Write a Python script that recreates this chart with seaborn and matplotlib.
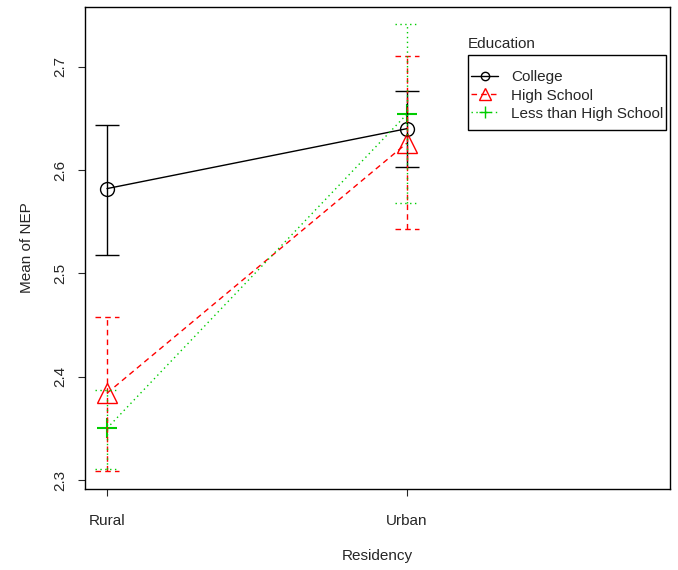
import numpy as np
import pandas as pd
import matplotlib
matplotlib.use("Agg")
import matplotlib.pyplot as plt
from matplotlib.lines import Line2D
from matplotlib.patches import Rectangle
import seaborn as sns

# values
residency = ["Rural", "Urban"]
education = ["College", "High School", "Less than High School"]
college_mean = [2.582, 2.640]
college_lo = [2.518, 2.603]
college_hi = [2.644, 2.676]
hs_mean = [2.384, 2.626]
hs_lo = [2.309, 2.543]
hs_hi = [2.458, 2.710]
lhs_mean = [2.350, 2.654]
lhs_lo = [2.311, 2.568]
lhs_hi = [2.387, 2.741]
y_ticks = [2.3, 2.4, 2.5, 2.6, 2.7]

sns.set_style("white")
plt.rcParams['font.family'] = ['Liberation Sans', 'DejaVu Sans']

colors = {"College": "#000000", "High School": "#ff0000", "Less than High School": "#00cd00"}
markers = {"College": "o", "High School": "^", "Less than High School": "+"}
msizes = {"College": 10, "High School": 14, "Less than High School": 14}
mwidths = {"College": 1.0, "High School": 1.0, "Less than High School": 1.5}
lstyles = {"College": "-", "High School": (0, (4, 3)), "Less than High School": (0, (1, 2.5))}

pos = np.arange(len(residency))
means = [college_mean, hs_mean, lhs_mean]
los = [college_lo, hs_lo, lhs_lo]
his = [college_hi, hs_hi, lhs_hi]

rows = []
for ed, m in zip(education, means):
    for p, v in zip(pos, m):
        rows.append({"Residency": p, "Education": ed, "NEP": v})
df = pd.DataFrame(rows)

fig = plt.figure(figsize=(6.78, 5.7), dpi=100)
ax = fig.add_axes([0.1254, 0.1416, 0.8626, 0.8466])

for ed in education:
    sub = df[df["Education"] == ed]
    sns.lineplot(data=sub, x="Residency", y="NEP", color=colors[ed],
                 marker=markers[ed], linestyle=lstyles[ed], markersize=msizes[ed],
                 markerfacecolor="none", markeredgecolor=colors[ed],
                 markeredgewidth=mwidths[ed], linewidth=1.0, legend=False, ax=ax)

# error bars with the same line style as each series
cap = 0.04
for ed, lo, hi in zip(education, los, his):
    ax.vlines(pos, lo, hi, color=colors[ed], linestyle=lstyles[ed], linewidth=1.0)
    ax.hlines(lo, pos - cap, pos + cap, color=colors[ed], linestyle=lstyles[ed], linewidth=1.0)
    ax.hlines(hi, pos - cap, pos + cap, color=colors[ed], linestyle=lstyles[ed], linewidth=1.0)

ax.set_xlim(-0.0733, 1.877)
ax.set_ylim(2.291, 2.758)
ax.set_xticks(pos)
ax.set_xticklabels(residency)
ax.set_yticks(y_ticks)
ax.set_yticklabels([f"{t:.1f}" for t in y_ticks], rotation=90, va="center")
ax.tick_params(axis="x", length=5, width=0.8, pad=13, labelsize=11, direction="out", bottom=True)
ax.tick_params(axis="y", length=5, width=0.8, pad=8, labelsize=11, direction="out", left=True)
ax.set_xlabel("Residency", fontsize=11, labelpad=15)
ax.set_ylabel("Mean of NEP", fontsize=11, labelpad=14)
for s in ax.spines.values():
    s.set_color("black")
    s.set_linewidth(1.0)

# legend: R style, title above a square box
handles = [Line2D([0], [0], color=colors[ed], linestyle=lstyles[ed], linewidth=1.0,
                  marker=markers[ed], markersize=6 if ed == "College" else 8,
                  markerfacecolor="none")
           for ed in education]
ax.legend(handles, education, loc="center left", bbox_to_anchor=(0.6547, 0.816),
          fontsize=11, frameon=False, handlelength=1.8, handletextpad=0.85,
          labelspacing=0.28, borderpad=0.2, borderaxespad=0)
ax.add_patch(Rectangle((0.6547, 0.7445), 0.3385, 0.1555, transform=ax.transAxes,
                       fill=False, edgecolor="black", linewidth=1.0))
ax.text(0.6547, 0.908, "Education", transform=ax.transAxes, fontsize=11,
        ha="left", va="bottom")

fig.savefig("out.png", dpi=100)
